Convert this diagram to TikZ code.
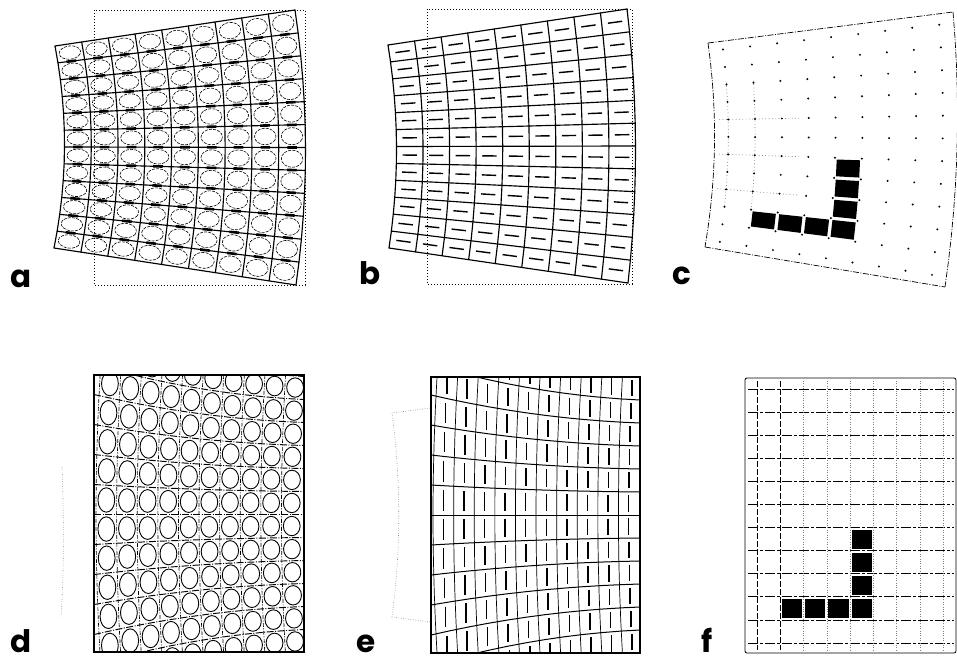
\documentclass[tikz,border=0pt]{standalone}
\usepackage{fontspec}
\newfontfamily\labfont{Poppins}
\def\setwarp#1#2#3#4#5#6#7#8#9{\def\TLx{#1}\def\TLy{#2}\def\TRx{#3}\def\TRy{#4}\def\BLx{#5}\def\BLy{#6}\def\BRx{#7}\def\BRy{#8}\def\Bow{#9}}
\pgfmathdeclarefunction{wx}{2}{\begingroup\pgfmathparse{(1-#1)*(1-#2)*\TLx+#1*(1-#2)*\TRx+(1-#1)*#2*\BLx+#1*#2*\BRx+4*\Bow*#2*(1-#2)}\pgfmathsmuggle\pgfmathresult\endgroup}
\pgfmathdeclarefunction{wy}{2}{\begingroup\pgfmathparse{(1-#1)*(1-#2)*\TLy+#1*(1-#2)*\TRy+(1-#1)*#2*\BLy+#1*#2*\BRy}\pgfmathsmuggle\pgfmathresult\endgroup}
\pgfmathdeclarefunction{fanh}{1}{\begingroup\pgfmathparse{30-7*#1-5.1*#1*(1-#1)}\pgfmathsmuggle\pgfmathresult\endgroup}
% warped grid lines (9 x 12)
\newcommand\WarpGrid{%
  \foreach \i in {0,...,9}{\draw[wgrid] plot[variable=\t,domain=0:1,samples=13] ({wx(\i/9,\t)},{wy(\i/9,\t)});}
  \foreach \j in {0,...,12}{\draw[wgrid] plot[variable=\t,domain=0:1,samples=10] ({wx(\t,\j/12)},{wy(\t,\j/12)});}}
% L-shaped squares in normalised coordinates
\newcommand\LSquares{%
  \foreach \k/\m in {1/9,2/9,3/9,4/9,4/6,4/7,4/8}{%
    \pgfmathsetmacro\ua{0.0569+0.1104*\k+0.007}\pgfmathsetmacro\ub{0.0569+0.1104*(\k+1)-0.007}%
    \pgfmathsetmacro\va{0.04+0.084*\m+0.007}\pgfmathsetmacro\vb{0.04+0.084*(\m+1)-0.007}%
    \fill[sq] ({wx(\ua,\va)},{wy(\ua,\va)}) -- ({wx(\ub,\va)},{wy(\ub,\va)}) -- ({wx(\ub,\vb)},{wy(\ub,\vb)}) -- ({wx(\ua,\vb)},{wy(\ua,\vb)}) -- cycle;}}
\begin{document}
\begin{tikzpicture}[x=1pt,y=-1pt,
  wgrid/.style={line width=1.15pt,line join=round,line cap=round},
  oframe/.style={line width=1pt,dash pattern=on 1pt off 2pt},
  ell/.style={line width=0.6pt,dash pattern=on 3pt off 1.2pt},
  hbar/.style={line width=2.6pt},
  cdash/.style={line width=1.4pt},
  cedge/.style={line width=0.7pt,dash pattern=on 6pt off 1.5pt on 1pt off 1.5pt},
  cfaint/.style={gray,line width=0.7pt,dash pattern=on 0.8pt off 2.5pt},
  sq/.style={fill=black},
  rectln/.style={line width=1.1pt},
  dfan/.style={line width=0.95pt,dash pattern=on 7pt off 1.5pt on 1pt off 1.5pt},
  dvert/.style={line width=0.65pt,dash pattern=on 4pt off 1.5pt on 1pt off 1.5pt},
  circ/.style={line width=0.9pt},
  efan/.style={line width=1pt},
  evert/.style={line width=0.7pt},
  vbar/.style={line width=1.5pt},
  faint/.style={gray,line width=0.6pt,dash pattern=on 0.6pt off 1.8pt},
  fh/.style={line width=0.9pt,dash pattern=on 10pt off 2pt on 3pt off 2pt},
  fv/.style={line width=0.8pt,dash pattern=on 6pt off 2pt},
  lab/.style={inner sep=0pt,text depth=0pt,anchor=base west,font=\fontsize{31}{31}\labfont\bfseries}
]
\useasboundingbox (0,0) rectangle (957,659);

% ---------------- panel a ----------------
\setwarp{55}{46}{295}{10}{54}{248}{296}{285}{10}
\foreach \i in {0,...,8}{\foreach \j in {0,...,11}{%
  \draw[ell] plot[variable=\t,domain=0:337.5,samples=16,smooth cycle]
    ({wx((\i+.5+.4*cos(\t))/9,(\j+.5+.38*sin(\t))/12)},{wy((\i+.5+.4*cos(\t))/9,(\j+.5+.38*sin(\t))/12)});}}
\WarpGrid
\foreach \i in {0,...,8}{\foreach \j in {1,...,11}{%
  \draw[hbar] ({wx((\i+.32)/9,\j/12)},{wy((\i+.32)/9,\j/12)}) -- ({wx((\i+.68)/9,\j/12)},{wy((\i+.68)/9,\j/12)});}}
\draw[oframe] (94,10) rectangle (305,285);
\node[lab] (la) at (10,287) {a};

% ---------------- panel b ----------------
\setwarp{388}{45}{627}{9}{389}{248}{628}{283}{8}
\foreach \i in {0,...,8}{\foreach \j in {0,...,11}{%
  \draw[cdash] ({wx((\i+.23)/9,(\j+.5)/12)},{wy((\i+.23)/9,(\j+.5)/12)}) -- ({wx((\i+.77)/9,(\j+.5)/12)},{wy((\i+.77)/9,(\j+.5)/12)});}}
\WarpGrid
\draw[oframe] (427,9) rectangle (632,284);
\node[lab] (lb) at (359,284) {b};

% ---------------- panel c ----------------
\setwarp{708}{43}{953}{12}{705}{247}{945}{287}{8}
\draw[cedge] plot[variable=\t,domain=0:1,samples=12] ({wx(\t,0)},{wy(\t,0)});
\draw[cedge] plot[variable=\t,domain=0:1,samples=12] ({wx(\t,1)},{wy(\t,1)});
\draw[cedge] plot[variable=\t,domain=0:1,samples=12] ({wx(0,\t)},{wy(0,\t)});
\draw[cedge] plot[variable=\t,domain=0:1,samples=12] ({wx(1,\t)},{wy(1,\t)});
\foreach \u in {0.0569,0.1673}{\draw[cfaint] plot[variable=\t,domain=0.2:0.8,samples=6] ({wx(\u,\t)},{wy(\u,\t)});}
\foreach \v in {0.376,0.544,0.712}{\draw[cfaint] plot[variable=\t,domain=0.02:0.35,samples=5] ({wx(\t,\v)},{wy(\t,\v)});}
\foreach \k in {0,...,8}{\foreach \m in {0,...,11}{%
  \fill ({wx(0.0569+0.1104*\k,0.04+0.084*\m)},{wy(0.0569+0.1104*\k,0.04+0.084*\m)}) circle[radius=1.1];}}
\LSquares
\node[lab] (lc) at (672,284) {c};

% ---------------- panel d ----------------
\begin{scope}
\clip (94,375) rectangle (304,652);
\foreach \k in {-7,...,7}{\draw[dfan] plot[variable=\x,domain=94:304,samples=12] (\x,{514.5+\k*fanh((\x-94)/210)});}
\foreach \c in {0,...,9}{\draw[dvert] plot[variable=\y,domain=375:652,samples=10] ({100+20.6*\c-16*((\y-377)/276)*(1-(\y-377)/276)},\y);}
\foreach \c in {0,...,9}{\foreach \k in {-7,...,6}{%
  \pgfmathsetmacro\mxc{100+20.6*(\c+.5)}%
  \pgfmathsetmacro\mh{fanh((\mxc-94)/210)}%
  \pgfmathsetmacro\myc{514.5+(\k+.5)*\mh}%
  \pgfmathsetmacro\mt{(\myc-377)/276}%
  \pgfmathsetmacro\mxx{\mxc-16*\mt*(1-\mt)}%
  \pgfmathsetmacro\mry{0.42*\mh}%
  \draw[circ] (\mxx,\myc) ellipse [x radius=8.4,y radius=\mry];}}
\end{scope}
\draw[rectln] (94,375) rectangle (304,652);
\draw[faint] (62,467) .. controls (64,520) and (64,570) .. (61,618);
\node[lab] (ld) at (10,652) {d};

% ---------------- panel e ----------------
\begin{scope}
\clip (431,377) rectangle (640,653);
\foreach \k in {-7,...,7}{\draw[efan] plot[variable=\x,domain=431:640,samples=12] (\x,{515+\k*fanh((\x-431)/209)});}
\foreach \c in {0,...,9}{\draw[evert] plot[variable=\y,domain=377:653,samples=10] ({437+20.6*\c-16*((\y-377)/276)*(1-(\y-377)/276)},\y);}
\foreach \c in {0,...,9}{\foreach \k in {-7,...,6}{%
  \pgfmathsetmacro\mxc{437+20.6*(\c+.5)}%
  \pgfmathsetmacro\mh{fanh((\mxc-431)/209)}%
  \pgfmathsetmacro\myc{515+(\k+.5)*\mh}%
  \pgfmathsetmacro\mt{(\myc-377)/276}%
  \pgfmathsetmacro\mxx{\mxc-16*\mt*(1-\mt)}%
  \pgfmathsetmacro\mya{\myc-0.35*\mh}%
  \pgfmathsetmacro\myb{\myc+0.35*\mh}%
  \draw[vbar] (\mxx,\mya) -- (\mxx,\myb);}}
\end{scope}
\draw[rectln] (431,377) rectangle (640,653);
\draw[faint] (430,408) -- (392,413) .. controls (401,480) and (401,550) .. (392,617) -- (430,622);
\node[lab] (le) at (356,652) {e};

% ---------------- panel f ----------------
\setwarp{745}{378}{956}{378}{745}{653}{956}{653}{0}
\foreach \m in {0,...,11}{\pgfmathsetmacro\yy{378+275*(0.04+0.084*\m)}\draw[fh] (748,\yy) -- (954,\yy);}
\foreach \k in {0,1}{\pgfmathsetmacro\xx{745+211*(0.0569+0.1104*\k)}\draw[fv] (\xx,381) -- (\xx,650);}
\foreach \k in {2,...,8}{\pgfmathsetmacro\xx{745+211*(0.0569+0.1104*\k)}\draw[faint] (\xx,381) -- (\xx,650);}
\LSquares
\draw[rectln,line width=0.8pt,rounded corners=2pt] (745,378) rectangle (956,653);
\node[lab] (lf) at (701,652) {f};
\end{tikzpicture}
\end{document}
